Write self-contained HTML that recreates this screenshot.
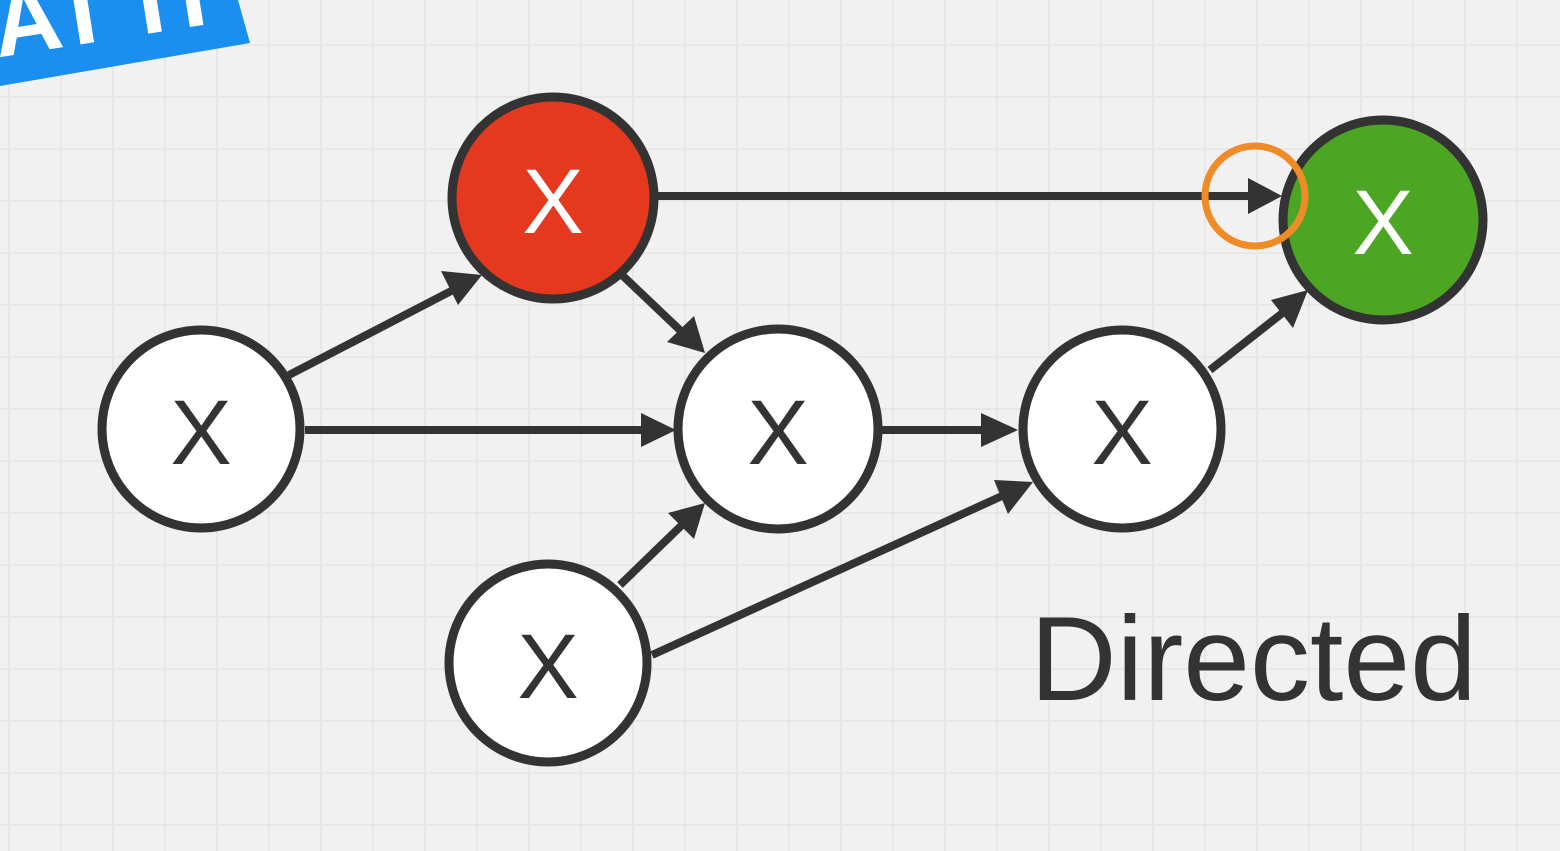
<!DOCTYPE html>
<html><head><style>
html,body{margin:0;padding:0;}
body{width:1560px;height:851px;overflow:hidden;background:#f1f1f1;
background-image:linear-gradient(#e7e7e7 2px,transparent 2px),linear-gradient(90deg,#e7e7e7 2px,transparent 2px);
background-size:52px 52px;background-position:0 44px,8px 0;position:relative;font-family:"Liberation Sans",sans-serif;}
</style></head><body>
<svg width="1560" height="851" style="position:absolute;left:0;top:0">
<defs><clipPath id="bc"><polygon points="0,0 238,0 250,43 0,86"/></clipPath></defs>
<polygon points="0,0 238,0 250,43 0,86" fill="#1a8ff0"/>
<g clip-path="url(#bc)">
<text x="-5" y="38" fill="#fff" font-size="95" font-weight="bold" transform="rotate(-9 120 30)" font-family="Liberation Sans">AT IT'S</text>
</g>
<g stroke="#333" stroke-width="8" fill="none">
<line x1="657" y1="196" x2="1250" y2="196"/>
<line x1="289" y1="375" x2="455" y2="289"/>
<line x1="622" y1="275" x2="683" y2="333"/>
<line x1="305" y1="430" x2="645" y2="430"/>
<line x1="882" y1="430" x2="985" y2="430"/>
<line x1="1210" y1="370" x2="1285" y2="311"/>
<line x1="620" y1="585" x2="683" y2="524"/>
<line x1="652" y1="655" x2="1002" y2="496"/>
</g>
<g fill="#333">
<polygon points="1282,196 1248,178 1248,214"/>
<polygon points="482,275 441,271 458,305"/>
<polygon points="705,353 667,342 694,316"/>
<polygon points="676,430 641,413 641,447"/>
<polygon points="1018,430 981,413 981,447"/>
<polygon points="1308,290 1271,300 1293,328"/>
<polygon points="705,503 668,513 694,539"/>
<polygon points="1033,482 994,480 1008,514"/>
</g>
<g stroke="#333" stroke-width="9">
<circle cx="553" cy="198" r="101" fill="#e5391f"/>
<circle cx="1383" cy="220" r="100" fill="#4ca523"/>
<circle cx="201" cy="429" r="99" fill="#fff"/>
<circle cx="778" cy="429" r="100" fill="#fff"/>
<circle cx="1122" cy="429" r="99" fill="#fff"/>
<circle cx="548" cy="663" r="99" fill="#fff"/>
</g>
<circle cx="1255" cy="196" r="50" fill="none" stroke="#f08c28" stroke-width="7"/>
<g font-family="Liberation Sans" font-size="92" text-anchor="middle" fill="#333">
<text x="553" y="233" fill="#fff">X</text>
<text x="1383" y="254" fill="#fff">X</text>
<text x="201" y="464">X</text>
<text x="778" y="464">X</text>
<text x="1122" y="464">X</text>
<text x="548" y="698">X</text>
</g>
<text x="1030" y="700" font-family="Liberation Sans" font-size="120" fill="#333">Directed</text>
</svg>
</body></html>
